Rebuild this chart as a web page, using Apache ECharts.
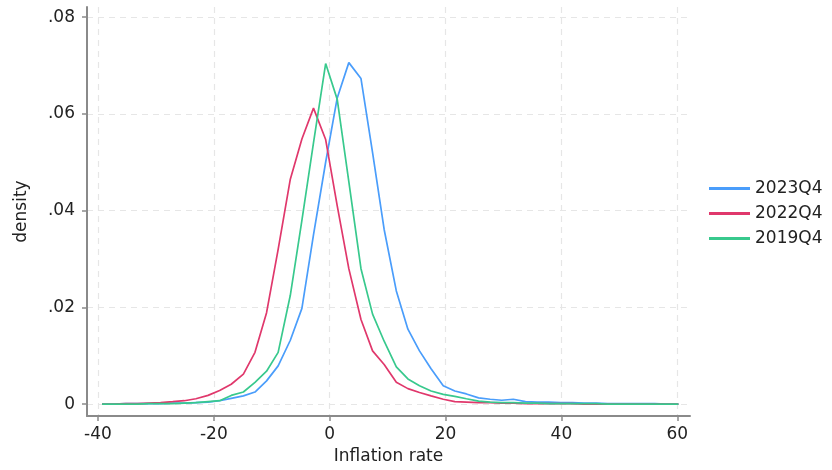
<!DOCTYPE html>
<html>
<head>
<meta charset="utf-8">
<script src="https://cdn.jsdelivr.net/npm/echarts@6/dist/echarts.min.js"></script>
<style>
html,body{margin:0;padding:0;background:#fff;}
#chart{width:832px;height:470px;}
</style>
</head>
<body>
<div id="chart"></div>
<script>
// Evaluation grid (inflation rate)
var xGrid = [-39.3, -37.3, -35.2, -33.2, -31.2, -29.2, -27.1, -25.1, -23.1, -21.0,
             -19.0, -17.0, -14.9, -12.9, -10.9, -8.9, -6.8, -4.8, -2.8, -0.7,
             1.3, 3.3, 5.4, 7.4, 9.4, 11.5, 13.5, 15.5, 17.5, 19.6,
             21.6, 23.6, 25.7, 27.7, 29.7, 31.7, 33.8, 35.8, 37.8, 39.9,
             41.9, 43.9, 46.0, 48.0, 50.0, 52.0, 54.1, 56.1, 58.1, 60.2];

var d2023Q4 = [0, 0, 0.0001, 0.0001, 0.0001, 0.0001, 0.0002, 0.0002, 0.0003, 0.0004,
               0.0007, 0.0012, 0.0017, 0.0025, 0.0048, 0.0079, 0.0132, 0.0198, 0.035, 0.050,
               0.0633, 0.0706, 0.0673, 0.052, 0.0361, 0.0234, 0.0155, 0.011, 0.0073, 0.0038,
               0.0027, 0.0021, 0.0013, 0.0010, 0.0008, 0.0010, 0.0005, 0.0004, 0.0004, 0.0003,
               0.0003, 0.0002, 0.0002, 0.0001, 0.0001, 0.0001, 0.0001, 0.0001, 0, 0];

var d2022Q4 = [0, 0, 0.0001, 0.0001, 0.0002, 0.0003, 0.0005, 0.0007, 0.0011, 0.0018,
               0.0028, 0.0041, 0.0062, 0.0107, 0.0189, 0.032, 0.0465, 0.0548, 0.0612, 0.0547,
               0.041, 0.028, 0.0175, 0.011, 0.0082, 0.0045, 0.0032, 0.0024, 0.0017, 0.0010,
               0.0005, 0.0004, 0.0003, 0.0003, 0.0002, 0.0002, 0.0001, 0.0001, 0.0001, 0.0001,
               0.0001, 0, 0, 0, 0, 0, 0, 0, 0, 0];

var d2019Q4 = [0, 0, 0, 0, 0.0001, 0.0001, 0.0001, 0.0002, 0.0003, 0.0005,
               0.0007, 0.0018, 0.0025, 0.0045, 0.0068, 0.0107, 0.0225, 0.038, 0.054, 0.0704,
               0.063, 0.046, 0.028, 0.0186, 0.013, 0.0077, 0.0052, 0.0038, 0.0027, 0.0020,
               0.0016, 0.0011, 0.0006, 0.0004, 0.0003, 0.0003, 0.0002, 0.0002, 0.0001, 0.0001,
               0.0001, 0.0001, 0.0001, 0, 0, 0, 0, 0, 0, 0];

var seriesNames = ['2023Q4', '2022Q4', '2019Q4'];
var seriesColors = ['#4a9dfb', '#e0386c', '#38c98d'];
var xTicks = [-40, -20, 0, 20, 40, 60];
var yTicks = [0, 0.02, 0.04, 0.06, 0.08];

function pairs(ys) {
  return ys.map(function (y, i) { return [xGrid[i], y]; });
}
var allData = [d2023Q4, d2022Q4, d2019Q4];

var FONT = 'DejaVu Sans';
var FS = 17;
var axisColor = '#8a8a8a';
var gridLine = { show: true, lineStyle: { color: '#e6e6e6', type: [6, 5], width: 1.2 } };

var chart = echarts.init(document.getElementById('chart'), null, { renderer: 'canvas' });
chart.setOption({
  animation: false,
  backgroundColor: '#ffffff',
  textStyle: { fontFamily: FONT },
  grid: { left: 87, right: 142, top: 7, bottom: 53, containLabel: false },
  legend: {
    orient: 'vertical',
    left: 704,
    top: 175,
    itemWidth: 41,
    itemHeight: 3,
    itemGap: 8,
    icon: 'rect',
    data: seriesNames,
    textStyle: { fontFamily: FONT, fontSize: FS, color: '#222' }
  },
  xAxis: {
    type: 'value',
    min: -41.9,
    max: 62.2,
    name: 'Inflation rate',
    nameLocation: 'middle',
    nameGap: 31,
    nameTextStyle: { fontFamily: FONT, fontSize: FS, color: '#222' },
    axisLine: { show: true, onZero: false, lineStyle: { color: axisColor, width: 2 } },
    axisTick: { show: true, customValues: xTicks, length: 5, lineStyle: { color: axisColor, width: 1.5 } },
    axisLabel: { customValues: xTicks, margin: 10, fontSize: FS, color: '#222', fontFamily: FONT },
    splitLine: Object.assign({ customValues: xTicks }, gridLine)
  },
  yAxis: {
    type: 'value',
    min: -0.00248,
    max: 0.0821,
    name: 'density',
    nameLocation: 'middle',
    nameGap: 57,
    nameTextStyle: { fontFamily: FONT, fontSize: FS, color: '#222' },
    axisLine: { show: true, onZero: false, lineStyle: { color: axisColor, width: 2 } },
    axisTick: { show: true, customValues: yTicks, length: 5, lineStyle: { color: axisColor, width: 1.5 } },
    axisLabel: {
      customValues: yTicks, margin: 12, fontSize: FS, color: '#222', fontFamily: FONT,
      formatter: function (v) {
        if (Math.abs(v) < 1e-9) return '0';
        return v.toFixed(2).replace(/^0/, '');
      }
    },
    splitLine: Object.assign({ customValues: yTicks }, gridLine)
  },
  series: seriesNames.map(function (name, i) {
    return {
      name: name,
      type: 'line',
      showSymbol: false,
      symbol: 'none',
      color: seriesColors[i],
      lineStyle: { width: 1.7, color: seriesColors[i] },
      data: pairs(allData[i])
    };
  })
});
</script>
</body>
</html>
